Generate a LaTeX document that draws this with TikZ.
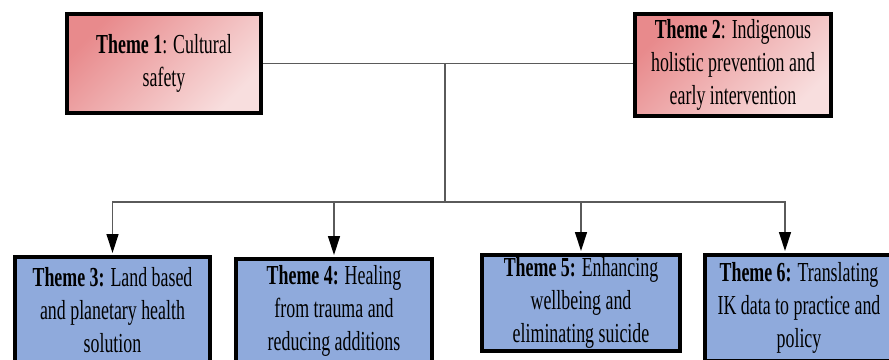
\documentclass[tikz,border=0pt]{standalone}
\usepackage{fontspec}
\setmainfont{Liberation Serif}[FakeStretch=0.65]
\usetikzlibrary{arrows.meta}
\definecolor{pinkdark}{RGB}{232,138,140}
\definecolor{pinklight}{RGB}{248,222,222}
\definecolor{themeblue}{RGB}{143,170,220}
\definecolor{linegray}{RGB}{90,90,90}

\begin{document}
\begin{tikzpicture}[x=1pt,y=-1pt,
    box/.style={draw=black, line width=4pt, align=center, inner sep=0pt,
        font=\fontsize{27.5}{33}\selectfont},
    redbox/.style={box, top color=pinkdark, bottom color=pinklight, shading angle=45},
    bluebox/.style={box, fill=themeblue},
    link/.style={draw=linegray, line width=1.3pt},
    arr/.style={link, -{Triangle[width=12pt,length=19pt,color=black]}, shorten >=2pt}]
    \clip (0,0) rectangle (889,359);

    % top row
    \node[redbox, minimum width=194pt, minimum height=99pt] (t1) at (164,63.5)
        {\textbf{Theme 1}: Cultural\\safety};
    \node[redbox, minimum width=196pt, minimum height=102pt] (t2) at (733,65)
        {\textbf{Theme 2}: Indigenous\\holistic prevention and\\early intervention};

    % bottom row
    \node[bluebox, minimum width=195pt, minimum height=106pt] (t3) at (112.5,310)
        {\textbf{Theme 3:} Land based\\and planetary health\\solution};
    \node[bluebox, minimum width=196pt, minimum height=104pt] (t4) at (334,311)
        {\textbf{Theme 4:} Healing\\from trauma and\\reducing additions};
    \node[bluebox, minimum width=198pt, minimum height=96pt] (t5) at (581,303)
        {\textbf{Theme 5:} Enhancing\\wellbeing and\\eliminating suicide};
    \node[bluebox, minimum width=188pt, minimum height=106pt] (t6) at (799,308)
        {\textbf{Theme 6:} Translating\\IK data to practice and\\policy};

    \coordinate (hub) at (445,202);
    \draw[link] (t1.east) -- (t1.east -| t2.west);
    \draw[link] (hub |- t1.east) -- (hub);
    \foreach \t/\dx in {t3/0, t4/0, t5/0, t6/-14} {
        \draw[arr] (hub) -| ([xshift=\dx pt]\t.north);
    }
\end{tikzpicture}
\end{document}
